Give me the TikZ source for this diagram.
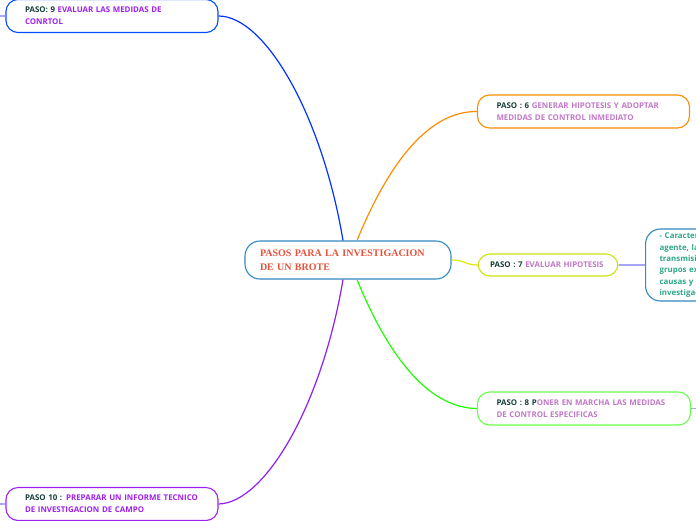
\documentclass[tikz,border=0pt]{standalone}
\usepackage{fontspec}
\setmainfont{Open Sans}
\newfontfamily\titlefont{Liberation Serif}
\usepackage{tikz}
\usetikzlibrary{positioning}

\definecolor{pasodark}{HTML}{17403A}
\definecolor{pasopurple}{HTML}{A020F0}
\definecolor{pasopink}{HTML}{C278C8}
\definecolor{titlered}{HTML}{E8503A}
\definecolor{detgreen}{HTML}{2FA88A}

\begin{document}
\begin{tikzpicture}[x=1pt, y=-1pt,
			paso/.style={draw, rounded corners=12pt, line width=1.1pt, fill=white, align=left, inner xsep=19pt, inner ysep=0pt, minimum height=33pt, text width=174pt, font=\fontsize{7.9}{12}\selectfont\bfseries},
			branch/.style={line width=1.2pt}
			]
			\useasboundingbox (0,0) rectangle (696,520);
			\clip (0,0) rectangle (696,520);
			
			% ---------------- CENTRAL TOPIC ----------------
			\node[draw=blue!40!cyan!70!black!80, line width=1.1pt, rounded corners=15pt, minimum width=206pt, minimum height=38pt, inner xsep=15pt, text width=176pt, align=left, font=\titlefont\fontsize{10}{14}\selectfont\bfseries, text=titlered] (brote) at (348,260) {PASOS PARA LA INVESTIGACION\\DE UN BROTE};
			
			% ---------------- LEFT BRANCHES ----------------
			\node[paso, draw=blue!70!cyan] (p9) at (112,16) {\textcolor{pasodark}{PASO: 9} \textcolor{pasopurple}{EVALUAR LAS MEDIDAS DE\\CONRTOL}};
			\node[paso, draw=pasopurple] (p10) at (112,504) {\textcolor{pasodark}{PASO 10 :} \textcolor{pasopurple}{PREPARAR UN INFORME TECNICO\\DE INVESTIGACION DE CAMPO}};
			
			% ---------------- RIGHT BRANCHES ----------------
			\node[paso, draw=orange!90!yellow] (p6) at (583.5,111.5) {\textcolor{pasodark}{PASO : 6} \textcolor{pasopink}{GENERAR HIPOTESIS Y ADOPTAR\\MEDIDAS DE CONTROL INMEDIATO}};
			\node[paso, draw=yellow!80!green, minimum height=22pt, inner xsep=12pt, text width=116pt] (p7) at (548,265) {\textcolor{pasodark}{PASO : 7} \textcolor{pasopink}{EVALUAR HIPOTESIS}};
			\node[paso, draw=green!80!lime!70, text width=175pt] (p8) at (584,408.5) {\textcolor{pasodark}{PASO : 8 P}\textcolor{pasopink}{ONER EN MARCHA LAS MEDIDAS\\DE CONTROL ESPECIFICAS}};
			\node[paso, draw=blue!40!cyan!70!black!80, rounded corners=15pt, anchor=west, minimum height=72pt, inner xsep=14pt, text width=110pt, text=detgreen, font=\fontsize{7.9}{11.3}\selectfont\bfseries] (det) at (645,265) {- Caracteristicas del\\agente, la fuente y\\transmision, los\\grupos expuestos,\\causas y\\investigacion};
			
			% ---------------- CONNECTORS ----------------
			\draw[branch, blue!80!cyan] ([xshift=-5pt]brote.north) .. controls (322,115) and (265,16) .. (p9.east);
			\draw[branch, orange!90!yellow] ([xshift=9pt]brote.north) .. controls (390,160) and (430,111) .. (p6.west);
			\draw[branch, yellow!85!green] (brote.east) .. controls (465,260) and (465,265) .. (p7.west);
			\draw[branch, green!85!lime] ([xshift=9pt]brote.south) .. controls (390,360) and (430,408) .. (p8.west);
			\draw[branch, pasopurple!90!blue] ([xshift=-5pt]brote.south) .. controls (322,405) and (265,503) .. (p10.east);
			\draw[branch, blue!35] (p7.east) -- (det.west);
			
			\coordinate (edgeright) at (700,408.5);
			\coordinate (edgetop) at (-4,16);
			\coordinate (edgebottom) at (-4,504);
			\draw[branch, blue!35] (p8.east) -- (edgeright);
			\draw[branch, blue!35] (edgetop) -- (p9.west);
			\draw[branch, blue!35] (edgebottom) -- (p10.west);
			
		\end{tikzpicture}
\end{document}
